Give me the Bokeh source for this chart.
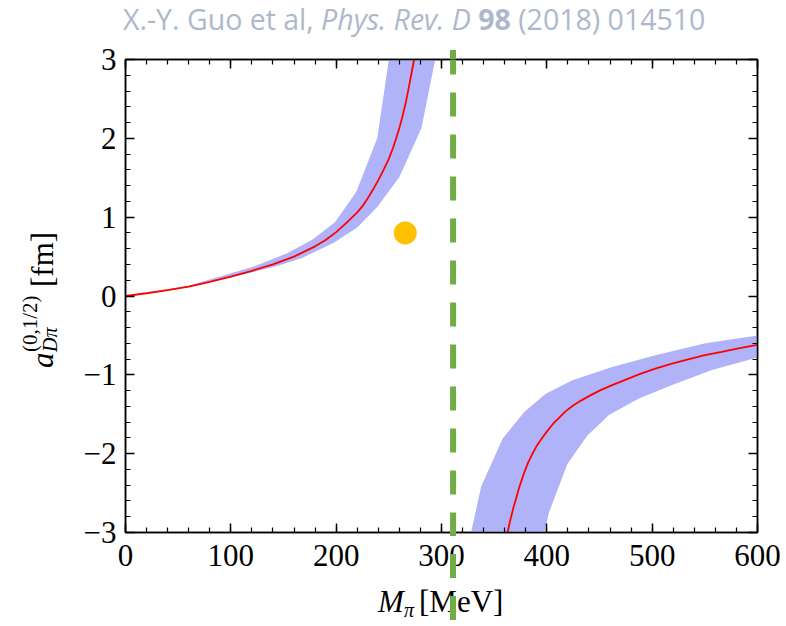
from bokeh.plotting import figure
from bokeh.models import LinearAxis, FixedTicker, Arrow, Range1d, Div
from bokeh.layouts import column, row
from bokeh.embed import file_html
from bokeh.resources import INLINE

# ---------------- data ----------------
# central curve, branch below the pole
red_left_x = [0, 20, 40, 60, 80, 100, 120, 140, 160, 180, 190, 200, 210, 220, 225,
              230, 235, 240, 245, 250, 254, 257, 260, 263, 266, 268, 270, 272, 274, 278]
red_left_y = [0.0, 0.035, 0.075, 0.12, 0.18, 0.245, 0.32, 0.40, 0.50, 0.63, 0.71,
              0.81, 0.93, 1.06, 1.14, 1.24, 1.35, 1.47, 1.60, 1.74, 1.88, 2.0, 2.13,
              2.28, 2.45, 2.58, 2.72, 2.86, 3.0, 3.35]
# central curve, branch above the pole
red_right_x = [358, 362.7, 365, 368, 371, 374, 378, 382, 386, 390, 395, 400, 406,
               412, 418, 425, 432, 440, 450, 462, 475, 488, 503, 518, 535, 550,
               566, 583, 600]
red_right_y = [-3.3, -3.0, -2.86, -2.70, -2.56, -2.42, -2.26, -2.12, -2.01, -1.91,
               -1.81, -1.72, -1.62, -1.54, -1.46, -1.39, -1.33, -1.27, -1.20, -1.13,
               -1.06, -0.99, -0.92, -0.86, -0.80, -0.75, -0.71, -0.66, -0.62]
# error band, left branch (upper/left edge and lower/right edge)
band_l_up_x = [0, 60, 88, 121, 153, 178, 199, 219, 239, 250]
band_l_up_y = [0.0, 0.13, 0.24, 0.37, 0.54, 0.72, 0.94, 1.32, 2.0, 3.0]
band_l_lo_x = [0, 60, 100, 144, 167, 197, 220, 239, 260, 281, 294]
band_l_lo_y = [0.0, 0.115, 0.235, 0.38, 0.48, 0.67, 0.87, 1.13, 1.51, 2.13, 3.0]
# error band, right branch
band_r_up_x = [328, 337.6, 358, 378.5, 399, 424.3, 462, 503, 550.5, 600]
band_r_up_y = [-3.0, -2.42, -1.81, -1.47, -1.24, -1.07, -0.90, -0.75, -0.60, -0.50]
band_r_lo_x = [397.5, 402.2, 419.5, 438.5, 459, 487.4, 519, 556.7, 600]
band_r_lo_y = [-3.0, -2.74, -2.13, -1.77, -1.51, -1.30, -1.13, -0.94, -0.78]
# lattice point
lat_x = [265.6]
lat_y = [0.80]
# threshold line position (MeV)
threshold = 311

x_ticks = [0, 100, 200, 300, 400, 500, 600]
y_ticks = [-3, -2, -1, 0, 1, 2, 3]
y_tick_labels = ["\u22123", "\u22122", "\u22121", "0", "1", "2", "3"]

title_plain = "X.-Y. Guo et al,"
title_journal = "Phys. Rev. D"
title_volume = "98"
title_rest = "(2018) 014510"

# ---------------- page geometry (pixels) ----------------
PAGE_W, PAGE_H = 786, 626
TITLE_H = 40                     # title strip height
YLAB_W = 70                      # y-label strip width
FIG_TOP = TITLE_H
FIG_BOTTOM = 580                 # page y where the figure ends
XLAB_H = PAGE_H - FIG_BOTTOM
FRAME_L, FRAME_R, FRAME_T, FRAME_B = 125, 757, 59, 532   # page coords of the frame

FIG_W = PAGE_W - YLAB_W
FIG_H = FIG_BOTTOM - FIG_TOP

X0, X1, Y0, Y1 = 0, 600, -3, 3

p = figure(width=FIG_W, height=FIG_H, output_backend="svg", toolbar_location=None,
           x_range=Range1d(X0, X1), y_range=Range1d(Y0, Y1),
           min_border_left=FRAME_L - YLAB_W, min_border_right=PAGE_W - FRAME_R,
           min_border_top=FRAME_T - FIG_TOP, min_border_bottom=FIG_BOTTOM - FRAME_B,
           x_axis_type=None, y_axis_type=None)
p.background_fill_color = "white"
p.border_fill_color = "white"
p.outline_line_color = "black"
p.outline_line_width = 1.5
p.grid.visible = False

xt = FixedTicker(ticks=x_ticks, minor_ticks=list(range(0, 601, 20)))
yt = FixedTicker(ticks=y_ticks, minor_ticks=[round(-3 + 0.2 * i, 1) for i in range(31)])

TICKFONT = "Liberation Serif"
def style_axis(ax, show, ticks):
    ax.axis_line_color = "black"
    ax.axis_line_width = 1.5
    ax.major_tick_line_width = 1.5
    ax.minor_tick_line_width = 1.2
    ax.major_tick_in = 9
    ax.major_tick_out = 0
    ax.minor_tick_in = 5
    ax.minor_tick_out = 0
    ax.major_tick_line_color = "black"
    ax.minor_tick_line_color = "black"
    ax.major_label_text_font = TICKFONT
    ax.major_label_text_color = "black"
    ax.major_label_text_font_size = "31px"
    if not show:
        ax.major_label_overrides = {t: "" for t in ticks}
        ax.major_label_standoff = 0

xb = LinearAxis(ticker=xt)
style_axis(xb, True, x_ticks)
xb.major_label_standoff = 12
p.add_layout(xb, "below")
xa = LinearAxis(ticker=xt)
style_axis(xa, False, x_ticks)
p.add_layout(xa, "above")
yl = LinearAxis(ticker=yt)
style_axis(yl, True, y_ticks)
yl.major_label_standoff = 9
yl.major_label_overrides = {t: s for t, s in zip(y_ticks, y_tick_labels)}
p.add_layout(yl, "left")
yr = LinearAxis(ticker=yt)
style_axis(yr, False, y_ticks)
p.add_layout(yr, "right")

BAND = "#B1B3F8"
p.patch(band_l_up_x + band_l_lo_x[::-1], band_l_up_y + band_l_lo_y[::-1],
        fill_color=BAND, line_color=None)
p.patch(band_r_up_x + band_r_lo_x[::-1], band_r_up_y + band_r_lo_y[::-1],
        fill_color=BAND, line_color=None)
p.line(red_left_x, red_left_y, line_color="#FF0000", line_width=1.8)
p.line(red_right_x, red_right_y, line_color="#FF0000", line_width=1.8)
p.scatter(lat_x, lat_y, size=23, fill_color="#FFC000", line_color=None)

# threshold line inside the frame (dash phase as in the reference)
GREEN = "#70AD47"
DASH_START, DASH_ON, DASH_OFF = 50, 24, 18          # page pixels
def page_y_to_data(Y):
    return Y1 - (Y - FRAME_T) * (Y1 - Y0) / (FRAME_B - FRAME_T)
p.add_layout(Arrow(end=None, x_start=threshold, y_start=page_y_to_data(DASH_START),
                   x_end=threshold, y_end=page_y_to_data(PAGE_H + 40),
                   line_color=GREEN, line_width=6,
                   line_dash=f"{DASH_ON} {DASH_OFF}"))

# page x of the threshold line (from the data value)
THR_X = FRAME_L + (threshold - X0) / (X1 - X0) * (FRAME_R - FRAME_L)

def dashes_between(ya, yb, offset_y):
    """green dash pieces for page y in [ya, yb], relative to a strip starting at offset_y"""
    out = []
    s = DASH_START
    while s < yb:
        a, b = max(s, ya), min(s + DASH_ON, yb)
        if b > a:
            out.append(f'<div style="position:absolute;left:{THR_X - 3:.1f}px;top:{a - offset_y:.1f}px;'
                       f'width:6px;height:{b - a:.1f}px;background:{GREEN}"></div>')
        s += DASH_ON + DASH_OFF
    return "".join(out)

SERIF_BASE = 0.8375   # baseline offset (em) for line-height:1, Liberation Serif
SANS_BASE = 0.888     # same for Open Sans

def piece(text, left, baseline, size, font="Liberation Serif", base=SERIF_BASE, extra=""):
    top = baseline - base * size
    return (f'<div style="position:absolute;left:{left}px;top:{top:.1f}px;'
            f'font-family:\'{font}\';font-size:{size}px;line-height:1;white-space:nowrap;{extra}">'
            f'{text}</div>')

# ---------------- title strip ----------------
TC = "#ADB9CA"
title_html = (f'<div style="position:relative;width:{PAGE_W}px;height:{TITLE_H}px;">'
              + piece(f'{title_plain} <i>{title_journal}</i> <b>{title_volume}</b> {title_rest}',
                      123, 30, 28.5, font="Open Sans", base=SANS_BASE, extra=f"color:{TC};")
              + '</div>')
title_div = Div(text=title_html, width=PAGE_W, height=TITLE_H, margin=0)

# ---------------- y-label strip (rotated) ----------------
Y_START = 368          # page y where the label starts (reads bottom to top)
ylab_inner = (piece('<i>a</i>', 0, 53, 31)
              + piece('<i>D\u03c0</i>', 16, 57, 20)
              + piece('(0,1/2)', 16, 38, 21)
              + piece('[fm]', 81, 53, 31))
ylab_html = (f'<div style="position:relative;width:{YLAB_W}px;height:{FIG_H}px;">'
             f'<div style="position:absolute;left:0px;top:{Y_START - FIG_TOP}px;width:0px;height:0px;'
             f'transform:rotate(-90deg);transform-origin:0 0;">{ylab_inner}</div></div>')
ylab_div = Div(text=ylab_html, width=YLAB_W, height=FIG_H, margin=0)

# ---------------- x-label strip (also carries the threshold dashes outside the frame) ----------------
XB = 612 - FIG_BOTTOM   # baseline inside strip
xlab_html = (f'<div style="position:relative;width:{PAGE_W}px;height:{XLAB_H}px;">'
             + piece('<i>M</i>', 378, XB, 31)
             + piece('<i>\u03c0</i>', 404, XB + 5, 20)
             + piece('[MeV]', 419, XB, 31)
             + dashes_between(0, FRAME_T, FIG_BOTTOM)
             + dashes_between(FRAME_B, PAGE_H, FIG_BOTTOM)
             + '</div>')
xlab_div = Div(text=xlab_html, width=PAGE_W, height=XLAB_H, margin=0)

layout = column(title_div, row(ylab_div, p, spacing=0), xlab_div, spacing=0)

open("out.html", "w").write(file_html(layout, INLINE))
